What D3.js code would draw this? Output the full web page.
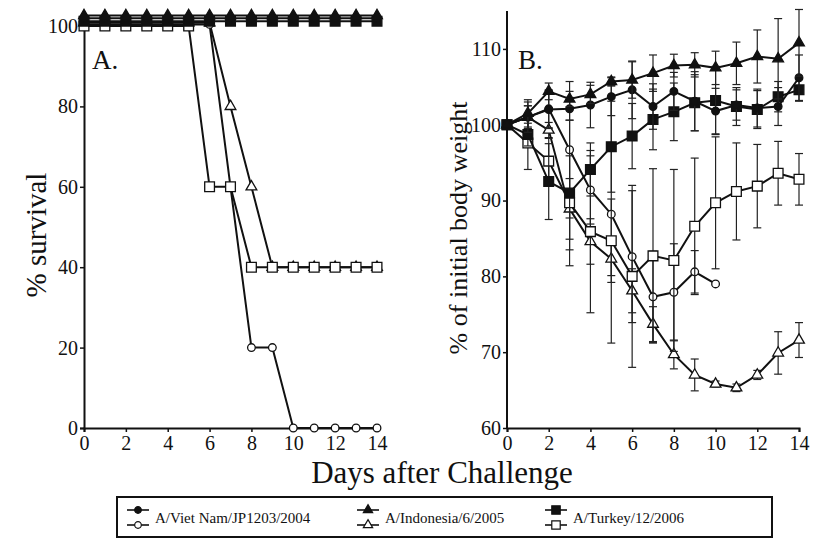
<!DOCTYPE html>
<html>
<head>
<meta charset="utf-8">
<script src="https://cdn.jsdelivr.net/npm/d3@7"></script>
<style>
  body { margin: 0; background: #fff; }
  svg text { font-family: "Liberation Serif", "DejaVu Serif", serif; fill: #111; }
</style>
</head>
<body>
<div id="chart"></div>
<script>
var width = 815,
    height = 539;

var days = d3.range(0, 15);

// panel A - % survival (the 100% lines are slightly staggered like in the figure)
var survVNf = [101.9,101.9,101.9,101.9,101.9,101.9,101.9,101.9,101.9,101.9,101.9,101.9,101.9,101.9,101.9];
var survINf = [102.6,102.6,102.6,102.6,102.6,102.6,102.6,102.6,102.6,102.6,102.6,102.6,102.6,102.6,102.6];
var survTRf = [101.2,101.2,101.2,101.2,101.2,101.2,101.2,101.2,101.2,101.2,101.2,101.2,101.2,101.2,101.2];
var survVNo = [100.4,100.4,100.4,100.4,100.4,100.4,100.4,60,20,20,0,0,0,0,0];
var survINo = [100.8,100.8,100.8,100.8,100.8,100.8,100.8,80,60,40,40,40,40,40,40];
var survTRo = [100,100,100,100,100,100,60,60,40,40,40,40,40,40,40];

// panel B - % of initial body weight, mean and error
var wtVNf  = [100,101,102.0,102.1,102.6,103.7,104.6,102.4,104.4,103.1,101.8,102.6,102.2,102.4,106.2];
var errVNf = [0,2.0,2.5,1.5,3.0,2.5,3.8,3.0,2.5,3.9,3.0,2.0,2.5,2.5,3.0];
var wtINf  = [100,101.5,104.4,103.4,104.0,105.7,105.9,106.8,107.8,107.9,107.5,108.1,109.0,108.7,110.8];
var errINf = [0,1.8,1.1,1.0,1.2,0.6,2.4,2.4,1.5,1.6,2.2,2.8,3.5,5.3,4.4];
var wtTRf  = [100,98.7,92.5,91.0,94.1,97.1,98.5,100.7,101.7,102.9,103.2,102.4,102.0,103.7,104.6];
var errTRf = [0,1.5,5.0,9.6,3.5,6.0,4.3,4.0,3.8,3.7,4.5,2.5,2.5,2.0,1.5];
var wtVNo  = [100,101,102.1,96.7,91.4,88.2,82.6,77.3,77.9,80.6,79.0];
var errVNo = [0,1.5,2.5,9.0,4.5,17,8.7,6.0,6.4,2.8,0];
var wtINo  = [100,101,99.3,88.9,84.6,82.3,78.1,73.7,69.7,67.0,65.8,65.3,67.0,69.9,71.6];
var errINo = [0,1.5,1.0,4.0,3.0,2.2,2.9,2.3,1.9,2.1,0.4,0.5,0.6,2.8,2.3];
var wtTRo  = [100,97.6,95.2,89.7,85.9,84.7,80.0,82.7,82.1,86.6,89.7,91.2,91.9,93.6,92.8];
var errTRo = [0,3.5,3.0,6.2,10.7,5.5,12,11.5,12,9,8.7,6.4,5.5,4.2,3.4];

var strains = ["A/Viet Nam/JP1203/2004", "A/Indonesia/6/2005", "A/Turkey/12/2006"];
var shapes = [d3.symbolCircle, d3.symbolTriangle, d3.symbolSquare];
var sizes = [46, 50, 95];

var svg = d3.select("#chart").append("svg")
    .attr("width", width)
    .attr("height", height);

// scales
var xA = d3.scaleLinear().domain([0, 14]).range([84, 377]);
var yA = d3.scaleLinear().domain([0, 100]).range([428, 26]);
var xB = d3.scaleLinear().domain([0, 14]).range([507, 799]);
var yB = d3.scaleLinear().domain([60, 115]).range([428, 11]);

function styleAxis(g, size) {
  g.select(".domain").attr("stroke", "#111").attr("stroke-width", 2);
  g.selectAll(".tick line").attr("stroke", "#111").attr("stroke-width", 1.5);
  g.selectAll(".tick text").style("font-size", size + "px").attr("fill", "#111");
}

// panel A axes
svg.append("g").attr("transform", "translate(0,428)")
    .call(d3.axisBottom(xA).tickValues(d3.range(0, 15, 2)).tickSize(4).tickPadding(4))
    .call(styleAxis, 20);
svg.append("g").attr("transform", "translate(84,0)")
    .call(d3.axisLeft(yA).tickValues([0, 20, 40, 60, 80, 100]).tickSize(4).tickPadding(2))
    .call(styleAxis, 20);

// panel B axes
svg.append("g").attr("transform", "translate(0,428)")
    .call(d3.axisBottom(xB).tickValues(d3.range(0, 15, 2)).tickSize(4).tickPadding(4))
    .call(styleAxis, 20);
var gyB = svg.append("g").attr("transform", "translate(507,0)")
    .call(d3.axisLeft(yB).tickValues([60, 70, 80, 90, 100, 110]).tickSize(4).tickPadding(2))
    .call(styleAxis, 20);
gyB.select(".domain").attr("d", "M0," + yB(115) + "V" + yB(60));

// labels
svg.append("text").attr("x", 92).attr("y", 69).style("font-size", "27px").text("A.");
svg.append("text").attr("x", 518).attr("y", 69).style("font-size", "27px").text("B.");

svg.append("text")
    .attr("transform", "translate(46,235) rotate(-90)")
    .attr("text-anchor", "middle")
    .style("font-size", "29px")
    .text("% survival");
svg.append("text")
    .attr("transform", "translate(467,228) rotate(-90)")
    .attr("text-anchor", "middle")
    .style("font-size", "26px")
    .text("% of initial body weight");
svg.append("text")
    .attr("x", 442).attr("y", 483)
    .attr("text-anchor", "middle")
    .style("font-size", "31px")
    .text("Days after Challenge");

// draw one series
function drawSeries(x, y, vals, errs, shape, size, filled) {
  var pts = vals.map(function(v, i) { return {d: days[i], v: v, e: errs ? errs[i] : 0}; });
  var g = svg.append("g");
  if (errs) {
    var eb = g.selectAll(".err").data(pts.filter(function(p) { return p.e > 0; }))
      .enter().append("g").attr("stroke", "#222").attr("stroke-width", 1.2);
    eb.append("line")
      .attr("x1", function(p) { return x(p.d); }).attr("x2", function(p) { return x(p.d); })
      .attr("y1", function(p) { return y(p.v - p.e); }).attr("y2", function(p) { return y(p.v + p.e); });
    eb.append("line")
      .attr("x1", function(p) { return x(p.d) - 4; }).attr("x2", function(p) { return x(p.d) + 4; })
      .attr("y1", function(p) { return y(p.v + p.e); }).attr("y2", function(p) { return y(p.v + p.e); });
    eb.append("line")
      .attr("x1", function(p) { return x(p.d) - 4; }).attr("x2", function(p) { return x(p.d) + 4; })
      .attr("y1", function(p) { return y(p.v - p.e); }).attr("y2", function(p) { return y(p.v - p.e); });
  }
  var line = d3.line().x(function(p) { return x(p.d); }).y(function(p) { return y(p.v); });
  g.append("path").datum(pts)
    .attr("d", line).attr("fill", "none").attr("stroke", "#111").attr("stroke-width", 2);
  g.selectAll(".pt").data(pts).enter().append("path")
    .attr("transform", function(p) { return "translate(" + x(p.d) + "," + y(p.v) + ")"; })
    .attr("d", d3.symbol().type(shape).size(size))
    .attr("fill", filled ? "#111" : "#fff")
    .attr("stroke", "#111").attr("stroke-width", 1.3);
}

// panel A
drawSeries(xA, yA, survINo, null, shapes[1], sizes[1], false);
drawSeries(xA, yA, survVNo, null, shapes[0], sizes[0], false);
drawSeries(xA, yA, survTRo, null, shapes[2], sizes[2], false);
drawSeries(xA, yA, survTRf, null, shapes[2], sizes[2], true);
drawSeries(xA, yA, survVNf, null, shapes[0], sizes[0], true);
drawSeries(xA, yA, survINf, null, shapes[1], sizes[1], true);

// panel B
drawSeries(xB, yB, wtINo, errINo, shapes[1], sizes[1], false);
drawSeries(xB, yB, wtVNo, errVNo, shapes[0], sizes[0], false);
drawSeries(xB, yB, wtTRo, errTRo, shapes[2], sizes[2], false);
drawSeries(xB, yB, wtTRf, errTRf, shapes[2], sizes[2], true);
drawSeries(xB, yB, wtVNf, errVNf, shapes[0], sizes[0], true);
drawSeries(xB, yB, wtINf, errINf, shapes[1], sizes[1], true);

// legend
var legend = svg.append("g");
legend.append("rect")
    .attr("x", 117).attr("y", 497).attr("width", 655).attr("height", 40)
    .attr("fill", "#fff").attr("stroke", "#111").attr("stroke-width", 2);
var legX = [127, 357, 545];
strains.forEach(function(s, i) {
  var lg = legend.append("g").attr("transform", "translate(" + legX[i] + ",0)");
  [[510, true], [525, false]].forEach(function(r) {
    lg.append("line").attr("x1", 0).attr("x2", 22).attr("y1", r[0]).attr("y2", r[0])
      .attr("stroke", "#111").attr("stroke-width", 1.6);
    lg.append("path").attr("transform", "translate(11," + r[0] + ")")
      .attr("d", d3.symbol().type(shapes[i]).size(sizes[i] * 0.75))
      .attr("fill", r[1] ? "#111" : "#fff").attr("stroke", "#111").attr("stroke-width", 1.2);
  });
  lg.append("text").attr("x", 28).attr("y", 523).style("font-size", "15px").text(s);
});
</script>
</body>
</html>
